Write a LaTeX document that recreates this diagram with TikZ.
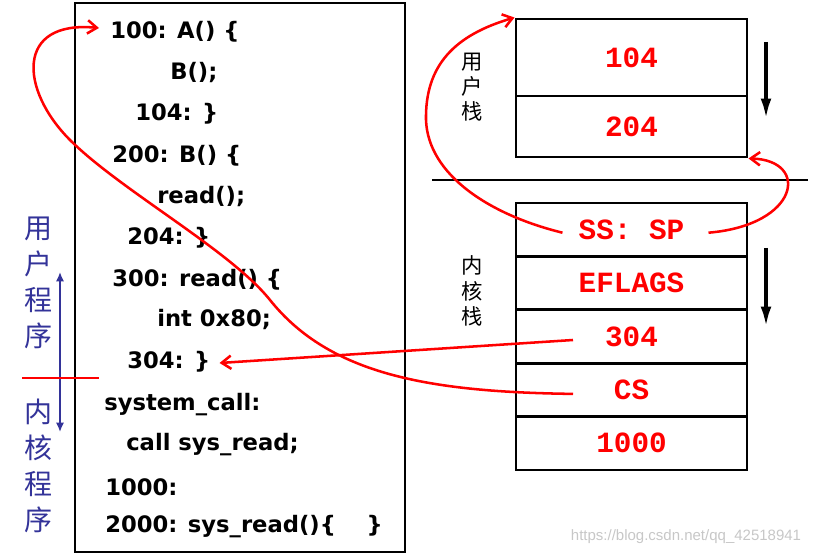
\documentclass[tikz,border=0pt]{standalone}
\usepackage{fontspec}
\usepackage{tikz}
\usetikzlibrary{calc,arrows.meta}
\setmainfont{DejaVu Sans}
\newfontfamily\codefont{DejaVu Sans}[BoldFont={DejaVu Sans Bold}]
\newfontfamily\stackfont{Liberation Mono}
\newfontfamily\cjk{Noto Sans CJK SC}
\newfontfamily\markfont{Liberation Sans}
\definecolor{labelblue}{RGB}{51,51,153}

\tikzset{
  codeline/.style={anchor=west, inner sep=0pt, font=\codefont\bfseries\fontsize{17}{20}\selectfont},
  cell/.style={draw, line width=2.2pt, minimum width=173.25pt, inner sep=1pt, text=red,
    font=\stackfont\bfseries\fontsize{22}{24}\selectfont},
  redline/.style={red, line width=1.9pt},
  redarrow/.style={redline, -{Straight Barb[length=7pt,width=10pt,line width=1.9pt]}},
  downarrow/.style={line width=3pt, -{Latex[length=16pt,width=8pt]}},
}

\begin{document}
\begin{tikzpicture}[x=0.75pt, y=-0.75pt]
  \useasboundingbox (0,0) rectangle (816,555);

  % program text
  \draw[line width=2.2pt] (75,3) rectangle (405,552);
  \node[codeline] (c100) at (110,32) {100: A() \{};
  \node[codeline] (cB) at (170,73) {B();};
  \node[codeline] (c104) at (135,114) {104: \}};
  \node[codeline] (c200) at (112,156) {200: B() \{};
  \node[codeline] (cread) at (157,197) {read();};
  \node[codeline] (c204) at (127,238) {204: \}};
  \node[codeline] (c300) at (112,280) {300: read() \{};
  \node[codeline] (cint) at (157,320) {int 0x80;};
  \node[codeline] (c304) at (127,362) {304: \}};
  \node[codeline] (csys) at (104,405) {system\_call:};
  \node[codeline] (ccall) at (126,445) {call sys\_read;};
  \node[codeline] (c1000) at (105,487) {1000:};
  \node[codeline] (c2000) at (105,527) {2000: sys\_read()\{\quad\ \}};

  % user / kernel side labels
  \node[text=labelblue, align=center, font=\cjk\fontsize{21}{27}\selectfont] (userlbl) at (38,283) {用\\户\\程\\序};
  \node[text=labelblue, align=center, font=\cjk\fontsize{21}{27}\selectfont] (kernlbl) at (38,466) {内\\核\\程\\序};
  \draw[labelblue, line width=1.2pt, {Latex[length=7pt,width=6pt]}-{Latex[length=7pt,width=6pt]}] (60,272) -- (60,432);
  \draw[redline] (22,378) -- (99,378);

  % stacks
  \node[cell, minimum height=57.75pt] (uret1) at (631.5,57.5) {104};
  \node[cell, minimum height=45.75pt] (uret2) at (631.5,126.5) {204};
  \node[align=center, font=\cjk\fontsize{16}{19}\selectfont] (ustack) at (472,87) {用\\户\\栈};
  \draw[downarrow] (766,42) -- (766,120);

  \draw[line width=2.2pt] (432,180) -- (808,180);

  \node[cell, minimum height=40.05pt] (kss) at (631.5,229.7) {SS: SP};
  \node[cell, minimum height=40.05pt] (kflags) at (631.5,283.1) {EFLAGS};
  \node[cell, minimum height=40.05pt] (kip) at (631.5,336.5) {304};
  \node[cell, minimum height=40.05pt] (kcs) at (631.5,389.9) {CS};
  \node[cell, minimum height=40.05pt] (k1000) at (631.5,443.3) {1000};
  \node[align=center, font=\cjk\fontsize{16}{19}\selectfont] (kstack) at (472,291) {内\\核\\栈};
  \draw[downarrow] (766,248) -- (766,328);

  % return paths
  \draw[redarrow] ($(kss.center)+(-69,3)$) .. controls (490,215) and (428,175) .. (426,120)
    .. controls (425,65) and (455,35) .. (uret1.north west);
  \draw[redarrow] ($(kss.center)+(77,3)$) .. controls (800,225) and (810,160) .. (uret2.south east);
  \draw[redarrow] ($(kip.center)+(-58.5,3.5)$) -- ($(c304.east)+(9,1)$);
  \draw[redarrow] ($(kcs.center)+(-58.5,4)$) .. controls (430,392) and (330,375) .. (270,300)
    .. controls (230,250) and (120,190) .. (70,140)
    .. controls (20,90) and (15,20) .. ($(c100.west)+(-11,-4)$);

  \node[text=black!22, font=\markfont\fontsize{11.25}{13}\selectfont] (mark) at (686,537) {https://blog.csdn.net/qq\_42518941};
\end{tikzpicture}
\end{document}
